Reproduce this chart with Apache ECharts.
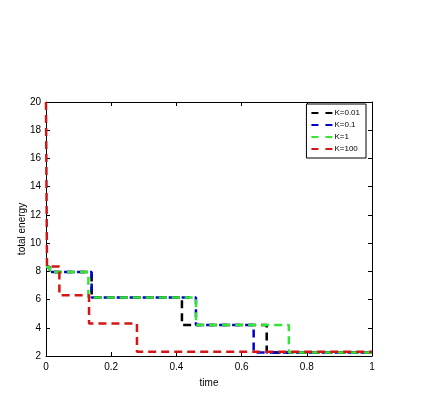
<!DOCTYPE html>
<html>
<head>
<meta charset="utf-8">
<script src="https://cdn.jsdelivr.net/npm/echarts@6/dist/echarts.min.js"></script>
<style>
html, body { margin: 0; padding: 0; background: #fff; }
#chart { width: 424px; height: 393px; }
</style>
</head>
<body>
<div id="chart"></div>
<script>
// step data: each point is where a new energy level starts
const seriesNames = ['K=0.01', 'K=0.1', 'K=1', 'K=100'];
const seriesColors = ['#000000', '#0000c8', '#33e633', '#d41515'];

const timesK001 = [0, 0.012, 0.14, 0.417, 0.677, 1];
const energyK001 = [8.3, 7.95, 6.15, 4.2, 2.25, 2.25];

const timesK01 = [0, 0.012, 0.14, 0.46, 0.637, 1];
const energyK01 = [8.3, 7.95, 6.15, 4.2, 2.25, 2.25];

const timesK1 = [0, 0.012, 0.13, 0.46, 0.745, 1];
const energyK1 = [8.3, 7.95, 6.15, 4.2, 2.25, 2.25];

const timesK100 = [0, 0.003, 0.041, 0.132, 0.279, 1];
const energyK100 = [20, 8.35, 6.3, 4.3, 2.3, 2.3];

const xTicks = [0, 0.2, 0.4, 0.6, 0.8, 1];
const yTicks = [2, 4, 6, 8, 10, 12, 14, 16, 18, 20];

const allTimes = [timesK001, timesK01, timesK1, timesK100];
const allEnergy = [energyK001, energyK01, energyK1, energyK100];

const chart = echarts.init(document.getElementById('chart'));

const font = 'Liberation Sans, Arial, sans-serif';
const dash = [8, 5];
const dashOffsets = [0, 3, 0, 0]; // blue peeks a little through the green gaps

const axisCommon = {
  axisLine: { show: true, onZero: false, lineStyle: { color: '#000', width: 1 } },
  axisTick: { show: true, inside: true, length: 4, lineStyle: { color: '#000' } },
  splitLine: { show: false }
};

const series = seriesNames.map(function (name, i) {
  return {
    name: name,
    type: 'line',
    step: 'end',
    symbol: 'none',
    data: allTimes[i].map(function (t, j) { return [t, allEnergy[i][j]]; }),
    lineStyle: { color: seriesColors[i], width: 2.5, type: dash, dashOffset: dashOffsets[i] },
    itemStyle: { color: seriesColors[i] },
    z: 2 + i
  };
});

// legend entries: dashed line sample, no marker
const legendData = seriesNames.map(function (name, i) {
  return {
    name: name,
    itemStyle: { opacity: 0 },
    lineStyle: { color: seriesColors[i], width: 2, type: [7, 7], dashOffset: 0, opacity: 1 }
  };
});

const option = {
  animation: false,
  backgroundColor: '#fff',
  grid: { left: 46, right: 52, top: 102, bottom: 36 },
  legend: {
    orient: 'vertical',
    right: 58,
    top: 104,
    data: legendData,
    backgroundColor: '#fff',
    borderColor: '#000',
    borderWidth: 1,
    borderRadius: 0,
    padding: [5, 6, 5, 4],
    itemGap: 4,
    itemWidth: 21,
    itemHeight: 8,
    textStyle: { fontSize: 8, fontFamily: font, color: '#000', padding: [0, 0, 0, -3] }
  },
  xAxis: [
    Object.assign({
      type: 'value', min: 0, max: 1, interval: 0.2,
      name: 'time', nameLocation: 'middle', nameGap: 22, nameMoveOverlap: false,
      nameTextStyle: { fontSize: 10, fontFamily: font, color: '#000' },
      axisLabel: {
        fontSize: 10, fontFamily: font, color: '#000', margin: 6,
        formatter: function (v) { return xTicks.indexOf(Math.round(v * 10) / 10) >= 0 ? String(Math.round(v * 10) / 10) : ''; }
      }
    }, axisCommon),
    Object.assign({
      type: 'value', min: 0, max: 1, interval: 0.2, position: 'top',
      axisLabel: { show: false }
    }, axisCommon)
  ],
  yAxis: [
    Object.assign({
      type: 'value', min: 2, max: 20, interval: 2,
      name: 'total energy', nameLocation: 'middle', nameGap: 19, nameMoveOverlap: false,
      nameTextStyle: { fontSize: 10, fontFamily: font, color: '#000' },
      axisLabel: {
        fontSize: 10, fontFamily: font, color: '#000', margin: 5,
        formatter: function (v) { return yTicks.indexOf(v) >= 0 ? String(v) : ''; }
      }
    }, axisCommon),
    Object.assign({
      type: 'value', min: 2, max: 20, interval: 2, position: 'right',
      axisLabel: { show: false }
    }, axisCommon)
  ],
  series: series
};

chart.setOption(option);
</script>
</body>
</html>
